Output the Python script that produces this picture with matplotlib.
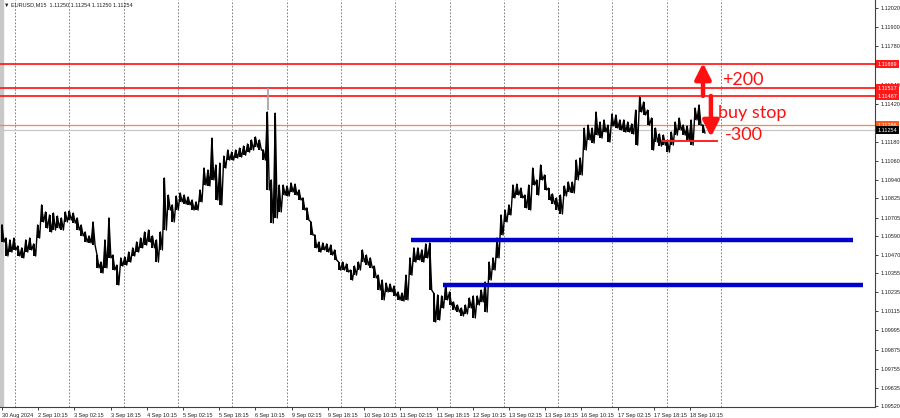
import numpy as np
import matplotlib
matplotlib.use("Agg")
import matplotlib.pyplot as plt

# EURUSD M15, aggregated bars (every 7 M15 bars)
bar_high = [
    1.10658, 1.10576, 1.10564, 1.10576, 1.10526, 1.10514, 1.10564, 1.10576, 1.10539, 1.10658,
    1.10784, 1.10740, 1.10721, 1.10733, 1.10714, 1.10702, 1.10740, 1.10746, 1.10733, 1.10702,
    1.10658, 1.10614, 1.10589, 1.10677, 1.10469, 1.10425, 1.10564, 1.10702, 1.10469, 1.10406,
    1.10451, 1.10457, 1.10488, 1.10514, 1.10551, 1.10576, 1.10614, 1.10626, 1.10589, 1.10564,
    1.10614, 1.10953, 1.10846, 1.10784, 1.10840, 1.10859, 1.10846, 1.10834, 1.10815, 1.10803,
    1.10878, 1.11016, 1.11003, 1.11204, 1.11035, 1.11047, 1.11091, 1.11129, 1.11116, 1.11129,
    1.11141, 1.11154, 1.11167, 1.11192, 1.11211, 1.11192, 1.11129, 1.11368, 1.10941, 1.11361,
    1.10909, 1.10909, 1.10903, 1.10922, 1.10915, 1.10878, 1.10828, 1.10765, 1.10677, 1.10595,
    1.10551, 1.10545, 1.10539, 1.10532, 1.10501, 1.10425, 1.10425, 1.10413, 1.10375, 1.10400,
    1.10425, 1.10501, 1.10469, 1.10451, 1.10400, 1.10343, 1.10312, 1.10293, 1.10287, 1.10274,
    1.10237, 1.10230, 1.10343, 1.10451, 1.10514, 1.10514, 1.10501, 1.10539, 1.10545, 1.10230,
    1.10218, 1.10212, 1.10281, 1.10237, 1.10174, 1.10155, 1.10136, 1.10155, 1.10199, 1.10212,
    1.10212, 1.10249, 1.10300, 1.10425, 1.10451, 1.10576, 1.10721, 1.10752, 1.10784, 1.10909,
    1.10915, 1.10890, 1.10846, 1.10909, 1.11016, 1.10941, 1.11035, 1.10972, 1.10890, 1.10853,
    1.10828, 1.10846, 1.10903, 1.10928, 1.10928, 1.11066, 1.11079, 1.11267, 1.11286, 1.11267,
    1.11368, 1.11305, 1.11318, 1.11286, 1.11355, 1.11349, 1.11318, 1.11318, 1.11305, 1.11293,
    1.11380, 1.11462, 1.11431, 1.11380, 1.11330, 1.11267, 1.11230, 1.11223, 1.11192, 1.11242,
    1.11305, 1.11330, 1.11286, 1.11280, 1.11318, 1.11393, 1.11412, 1.11286,
]
bar_low = [
    1.10551, 1.10463, 1.10488, 1.10501, 1.10463, 1.10451, 1.10488, 1.10501, 1.10463, 1.10576,
    1.10677, 1.10639, 1.10614, 1.10626, 1.10639, 1.10626, 1.10677, 1.10689, 1.10670, 1.10626,
    1.10589, 1.10551, 1.10545, 1.10532, 1.10388, 1.10356, 1.10388, 1.10451, 1.10375, 1.10281,
    1.10400, 1.10406, 1.10425, 1.10463, 1.10488, 1.10514, 1.10532, 1.10551, 1.10514, 1.10425,
    1.10501, 1.10626, 1.10752, 1.10677, 1.10752, 1.10803, 1.10790, 1.10784, 1.10752, 1.10752,
    1.10803, 1.10909, 1.10903, 1.10941, 1.10815, 1.10784, 1.11016, 1.11066, 1.11066, 1.11079,
    1.11085, 1.11097, 1.11116, 1.11129, 1.11148, 1.11129, 1.11066, 1.10878, 1.10670, 1.10702,
    1.10740, 1.10846, 1.10840, 1.10865, 1.10846, 1.10815, 1.10752, 1.10689, 1.10595, 1.10514,
    1.10488, 1.10501, 1.10488, 1.10469, 1.10438, 1.10375, 1.10375, 1.10362, 1.10312, 1.10343,
    1.10375, 1.10425, 1.10406, 1.10388, 1.10325, 1.10249, 1.10187, 1.10237, 1.10237, 1.10212,
    1.10187, 1.10180, 1.10187, 1.10343, 1.10425, 1.10438, 1.10425, 1.10451, 1.10249, 1.10048,
    1.10061, 1.10136, 1.10187, 1.10155, 1.10124, 1.10111, 1.10086, 1.10099, 1.10136, 1.10073,
    1.10155, 1.10174, 1.10111, 1.10312, 1.10375, 1.10451, 1.10595, 1.10677, 1.10721, 1.10828,
    1.10846, 1.10828, 1.10765, 1.10752, 1.10909, 1.10846, 1.10941, 1.10878, 1.10815, 1.10790,
    1.10752, 1.10727, 1.10840, 1.10865, 1.10859, 1.10941, 1.10972, 1.11129, 1.11192, 1.11173,
    1.11223, 1.11204, 1.11242, 1.11179, 1.11280, 1.11267, 1.11255, 1.11242, 1.11242, 1.11230,
    1.11160, 1.11368, 1.11349, 1.11286, 1.11129, 1.11179, 1.11154, 1.11160, 1.11116, 1.11160,
    1.11223, 1.11255, 1.11223, 1.11192, 1.11160, 1.11318, 1.11286, 1.11236,
]
bar_step = 7  # M15 bars per drawn bar

# grey spike on 6 Sep
spike_idx = [470]
spike_high = [1.11519]
spike_low = [1.11380]

x_labels = ["30 Aug 2024", "2 Sep 10:15", "3 Sep 02:15", "3 Sep 18:15", "4 Sep 10:15",
            "5 Sep 02:15", "5 Sep 18:15", "6 Sep 10:15", "9 Sep 02:15", "9 Sep 18:15",
            "10 Sep 10:15", "11 Sep 02:15", "11 Sep 18:15", "12 Sep 10:15", "13 Sep 02:15",
            "13 Sep 18:15", "16 Sep 10:15", "17 Sep 02:15", "17 Sep 18:15", "18 Sep 10:15"]
x_label_step = 64
day_start = 23
n_days = 14

y_ticks = [1.09520, 1.09635, 1.09755, 1.09875, 1.09995, 1.10115, 1.10235, 1.10355,
           1.10470, 1.10590, 1.10705, 1.10825, 1.10940, 1.11060, 1.11180, 1.11300,
           1.11420, 1.11540, 1.11660, 1.11780, 1.11900, 1.12020]
hidden_ticks = [1.11300, 1.11660]  # covered by the price tags

red_levels = [1.11669, 1.11517, 1.11467]
ask_level = 1.11286
bid_level = 1.11254

# support lines: (start idx, end idx, price)
blue_lines = [(723, 1504, 1.10564), (779, 1522, 1.10281)]
stop_line = (1166, 1264, 1.11186)

arrow_up = (1239, 1.11469, 1.11676)
arrow_down = (1253, 1.11469, 1.11211)

small = "Liberation Sans"

fig = plt.figure(figsize=(9, 4.18), dpi=100)
ax = fig.add_axes([0, 11 / 418, 875 / 900, 407 / 418])
ax.set_xlim(-3.5, 1543)
ax.set_ylim(1.09514, 1.12072)

# day separators
for d in range(n_days):
    ax.axvline(day_start + 96 * d, color="#6e6e6e", lw=0.6, ls=(0, (2, 2)), zorder=1)

# horizontal levels
for lv in red_levels:
    ax.axhline(lv, color="#ff2020", lw=1.3, zorder=2)
ax.axhline(ask_level, color="#ff8050", lw=0.9, zorder=2)
ax.axhline(bid_level, color="#c8c8c8", lw=0.9, zorder=2)

# price bars
idx = np.arange(len(bar_high)) * bar_step
hi = np.array(bar_high)
lo = np.array(bar_low)
ax.vlines(idx, lo, hi, color="black", lw=1.4, zorder=3)
zx = np.column_stack([idx, idx + bar_step / 2]).ravel()
zy = np.column_stack([hi, lo]).ravel()
ax.plot(zx, zy, color="black", lw=1.0, zorder=3)
ax.vlines(spike_idx, spike_low, spike_high, color="#a0a0a0", lw=1.2, zorder=3)

for x0, x1, p in blue_lines:
    ax.plot([x0, x1], [p, p], color="#0000cd", lw=3.2, solid_capstyle="butt", zorder=4)
ax.plot([stop_line[0], stop_line[1]], [stop_line[2], stop_line[2]], color="#ff2020", lw=1.4, zorder=4)

for xa, y0, y1 in [arrow_up, arrow_down]:
    ax.annotate("", xy=(xa, y1), xytext=(xa, y0),
                arrowprops=dict(arrowstyle="-|>,head_width=0.48,head_length=0.95",
                                color="#ff1010", lw=3.2, shrinkA=0, shrinkB=0), zorder=5)

txt_kw = dict(color="#ff1010", fontsize=13, family="Lato", va="center", ha="left", zorder=5)
ax.text(1273, 1.11569, "+200", **txt_kw)
ax.text(1265, 1.11362, "buy stop", **txt_kw)
ax.text(1278, 1.11223, "-300", **txt_kw)

# axes styling
for s in ["top", "left"]:
    ax.spines[s].set_visible(False)
ax.spines["right"].set_color("#404040")
ax.spines["bottom"].set_color("#404040")
ax.spines["right"].set_linewidth(0.8)
ax.spines["bottom"].set_linewidth(0.8)
ax.axvspan(-3.5, 1.5, color="#c8c8c8", zorder=0)

ax.yaxis.tick_right()
ax.set_yticks(y_ticks, ["" if v in hidden_ticks else f"{v:.5f}" for v in y_ticks])
ax.tick_params(axis="y", labelsize=4, length=2.5, width=0.6, pad=1.5, colors="#202020")
ax.set_xticks([x_label_step * i for i in range(len(x_labels))], x_labels)
ax.tick_params(axis="x", labelsize=4, length=2.5, width=0.6, pad=1.5, colors="#202020")
for lab in ax.get_xticklabels() + ax.get_yticklabels():
    lab.set_family(small)
for lab in ax.get_xticklabels():
    lab.set_ha("left")

# price tags on the axis
tags = [(p, f"{p:.5f}", "#ff1a1a") for p in red_levels]
tags += [(ask_level, f"{ask_level:.5f}", "#ff5a1a"), (bid_level, f"{bid_level:.5f}", "black")]
for p, t, c in tags:
    ax.text(1.003, p, t, transform=ax.get_yaxis_transform(), ha="left", va="center",
            fontsize=4, family=small, color="white", zorder=6, clip_on=False,
            bbox=dict(boxstyle="square,pad=0.25", fc=c, ec="none"))

fig.text(0.004, 1 - 5 / 418, "\u25bc EURUSD,M15  1.11250 1.11254 1.11250 1.11254",
         fontsize=4, family=[small, "DejaVu Sans"], va="center", ha="left", color="#202020")

fig.savefig("out.png", dpi=100)
